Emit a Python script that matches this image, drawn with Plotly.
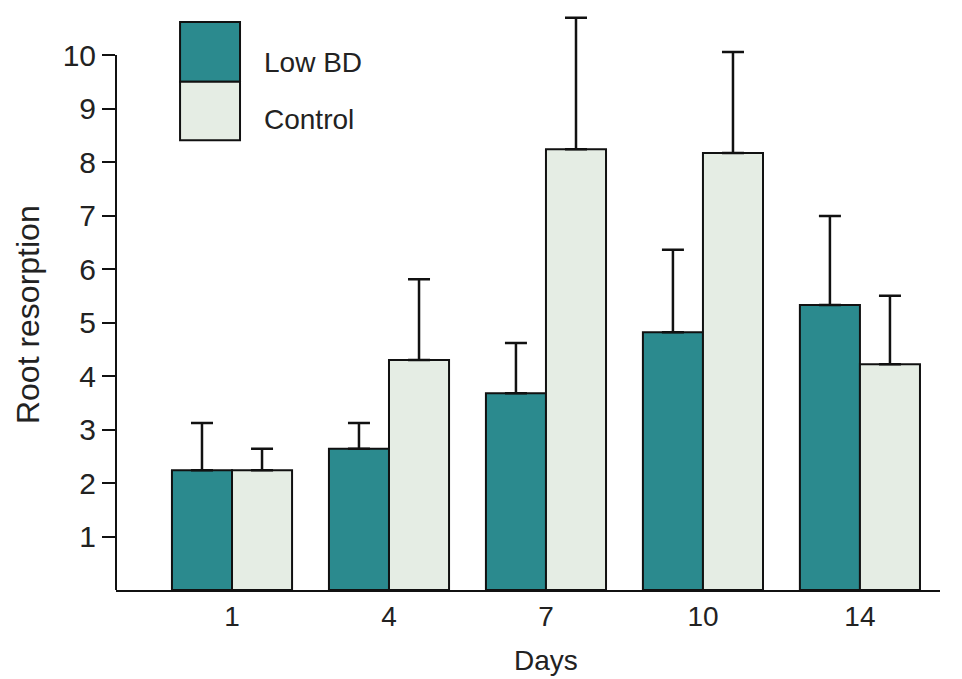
import plotly.graph_objects as go

days = ["1", "4", "7", "10", "14"]
low_bd = [2.24, 2.64, 3.68, 4.82, 5.33]
low_bd_err = [0.88, 0.48, 0.94, 1.54, 1.66]
control = [2.24, 4.30, 8.24, 8.17, 4.22]
control_err = [0.40, 1.51, 2.46, 1.89, 1.28]
y_ticks = [1, 2, 3, 4, 5, 6, 7, 8, 9, 10]

TEAL = "#2b8a8e"
LIGHT = "#e5ede4"
FONT = "Liberation Sans, Arial, sans-serif"
FS = 28

fig = go.Figure()
fig.add_trace(go.Bar(
    x=days, y=low_bd, name="Low BD",
    marker=dict(color=TEAL, line=dict(color="#111", width=2)),
    error_y=dict(type="data", array=low_bd_err, arrayminus=[0]*5, symmetric=False,
                 color="#111", thickness=2.5, width=11),
))
fig.add_trace(go.Bar(
    x=days, y=control, name="Control",
    marker=dict(color=LIGHT, line=dict(color="#111", width=2)),
    error_y=dict(type="data", array=control_err, arrayminus=[0]*5, symmetric=False,
                 color="#111", thickness=2.5, width=11),
))

# y spine up to 10 only
fig.add_shape(type="line", xref="paper", yref="y", x0=0, x1=0, y0=0, y1=10,
              line=dict(color="#111", width=2))

# custom legend
fig.add_shape(type="rect", xref="x", yref="y", x0=-0.331, x1=0.051, y0=9.5, y1=10.62,
              fillcolor=TEAL, line=dict(color="#111", width=2))
fig.add_shape(type="rect", xref="x", yref="y", x0=-0.331, x1=0.051, y0=8.41, y1=9.5,
              fillcolor=LIGHT, line=dict(color="#111", width=2))
fig.add_annotation(x=0.191, y=9.87, xref="x", yref="y", text="Low BD", showarrow=False,
                   xanchor="left", font=dict(size=FS, color="#222", family=FONT))
fig.add_annotation(x=0.191, y=8.79, xref="x", yref="y", text="Control", showarrow=False,
                   xanchor="left", font=dict(size=FS, color="#222", family=FONT))

# axis titles
fig.add_annotation(x=0, xref="paper", xshift=-88, y=5.14, yref="y", text="Root resorption",
                   textangle=-90, showarrow=False, xanchor="center", yanchor="middle",
                   font=dict(size=32, color="#222", family=FONT))
fig.add_annotation(x=2.0, xref="x", y=0, yref="paper", yshift=-70, text="Days",
                   showarrow=False, xanchor="center", yanchor="middle",
                   font=dict(size=FS, color="#222", family=FONT))

fig.update_layout(
    width=954, height=671,
    margin=dict(l=108, r=22, t=7, b=89),
    paper_bgcolor="white", plot_bgcolor="white",
    barmode="group", bargap=0.235, bargroupgap=0,
    showlegend=False,
    font=dict(family=FONT, size=FS, color="#222"),
    xaxis=dict(range=[-0.739, 4.51], showline=True, linecolor="#111", linewidth=2,
               ticks="", showgrid=False, zeroline=False, automargin=False,
               tickfont=dict(size=FS)),
    yaxis=dict(range=[0, 10.75], showline=False, ticks="outside", ticklen=13,
               tickwidth=2, tickcolor="#111", tickvals=y_ticks, automargin=False,
               showgrid=False, zeroline=False, tickfont=dict(size=30)),
)

fig.write_html("out.html")
